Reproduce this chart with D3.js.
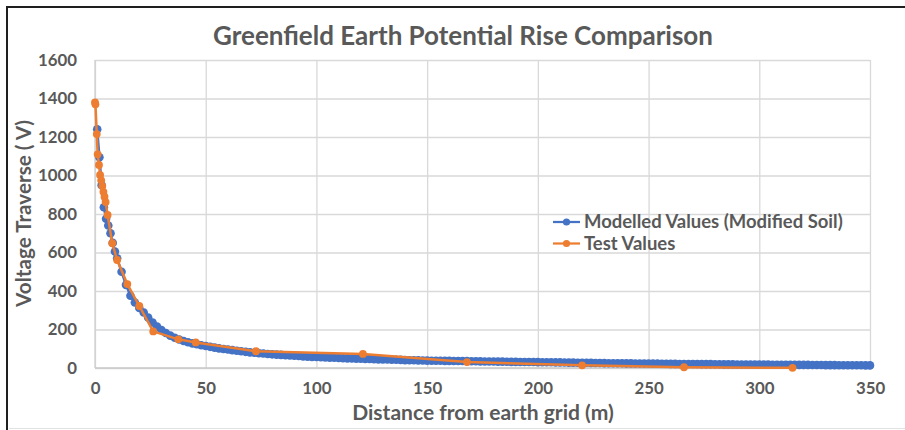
<!DOCTYPE html>
<html>
<head>
<meta charset="utf-8">
<script src="https://cdn.jsdelivr.net/npm/d3@7"></script>
<style>
  html, body { margin: 0; padding: 0; background: #fff; }
  svg { display: block; }
</style>
</head>
<body>
<svg id="chart" width="905" height="430"></svg>
<script>
// Texts
const chartTitle = "Greenfield Earth Potential Rise Comparison";
const xAxisTitle = "Distance from earth grid (m)";
const yAxisTitle = "Voltage Traverse ( V)";
const seriesNames = ["Modelled Values (Modified Soil)", "Test Values"];

// Axis ticks
const xTicks = [0, 50, 100, 150, 200, 250, 300, 350];
const yTicks = [0, 200, 400, 600, 800, 1000, 1200, 1400, 1600];

// Modelled traverse: 1 m steps to 10 m, then 2 m steps to 350 m
const modelDistances = [1, 2, 3, 4, 5, 6, 7, 8, 9, 10].concat(d3.range(12, 351, 2));
const modelVoltages = [
  1240, 1095, 950, 835, 775, 740, 700, 650, 605, 570,
  500, 432, 375, 340, 312, 288, 262, 236, 215, 197,
  182, 168, 157, 148, 140, 134, 128, 123, 118, 114,
  110, 106, 102, 99, 96, 93, 90, 87, 84, 81,
  79, 77, 75, 73, 71, 69.5, 68, 66.5, 65, 63.5,
  62, 60.5, 59, 58, 57,
  56, 55, 54, 53, 52, 51, 50, 49, 48.5, 48,
  47, 46.5, 46, 45, 44.5, 44, 43, 42.5, 42, 41,
  40.5, 40, 39.5, 39, 38.5,
  38, 38, 37.5, 37, 37, 36.5, 36, 36, 35.5, 35,
  35, 34.5, 34, 34, 33.5, 33, 33, 32.5, 32, 32,
  31.5, 31.5, 31, 31, 30.5,
  30, 30, 29.5, 29, 29, 28.5, 28, 28, 27.5, 27,
  27, 26.5, 26, 26, 25.5, 25, 25, 24.5, 24.5, 24,
  24, 23.5, 23.5, 23, 23,
  22.5, 22.5, 22, 22, 21.5, 21.5, 21, 21, 21, 20.5,
  20.5, 20, 20, 20, 19.5, 19.5, 19, 19, 19, 18.5,
  18.5, 18.5, 18, 18, 18,
  17.5, 17.5, 17, 17, 17, 16.5, 16.5, 16.5, 16, 16,
  16, 15.5, 15.5, 15.5, 15, 15, 15, 14.5, 14.5, 14.5,
  14, 14, 14, 13.5, 13.5
];

// Measured traverse
const testDistances = [0, 0.2, 0.8, 1.2, 1.8, 2.3, 2.8, 3.3, 3.8, 4.3, 4.8, 5.7, 7.8, 10, 14.6, 20, 26.3, 37.6, 45.5, 72.7, 121, 168, 220, 266, 315];
const testVoltages  = [1380, 1370, 1215, 1110, 1055, 1003, 975, 945, 915, 890, 862, 795, 648, 561, 436, 322, 190, 149, 133, 87, 73, 31, 14, 4, 1];

const seriesColors = ["#4472C4", "#ED7D31"];
const textColor = "#595959";
const fontFamily = "Lato, 'Open Sans', sans-serif";

const svg = d3.select("#chart");

// Outer frame
svg.append("rect")
  .attr("x", 7).attr("y", 7).attr("width", 930).attr("height", 450)
  .attr("fill", "#fff").attr("stroke", "#1f1f1f").attr("stroke-width", 2);
svg.append("line")
  .attr("x1", 9).attr("x2", 905).attr("y1", 428.5).attr("y2", 428.5)
  .attr("stroke", "#e2e2e2").attr("stroke-width", 1);

const plot = { left: 95, right: 870, top: 60, bottom: 368 };
const x = d3.scaleLinear().domain([0, 350]).range([plot.left, plot.right]);
const y = d3.scaleLinear().domain([0, 1600]).range([plot.bottom, plot.top]);

function fitWidth(sel, w) {
  const fs = parseFloat(sel.attr("font-size"));
  const len = sel.node().getComputedTextLength();
  const size = fs * w / len;
  sel.attr("font-size", size);
  return size;
}

// Tick label size from the widest y label
const probe = svg.append("text").attr("font-family", fontFamily).attr("font-weight", 700)
  .attr("font-size", 18).text("1600");
const tickSize = fitWidth(probe, 39);
probe.remove();

// Axes with gridlines
const xAxis = svg.append("g")
  .attr("transform", `translate(0,${plot.bottom})`)
  .call(d3.axisBottom(x).tickValues(xTicks).tickFormat(d3.format("d"))
    .tickSize(-(plot.bottom - plot.top)).tickPadding(14));
const yAxis = svg.append("g")
  .attr("transform", `translate(${plot.left},0)`)
  .call(d3.axisLeft(y).tickValues(yTicks).tickFormat(d3.format("d"))
    .tickSize(-(plot.right - plot.left)).tickPadding(18));

[xAxis, yAxis].forEach(g => {
  g.select(".domain").remove();
  g.selectAll(".tick line").attr("stroke", "#d9d9d9").attr("stroke-width", 1.3);
  g.selectAll(".tick text")
    .attr("font-family", fontFamily).attr("font-weight", 700)
    .attr("font-size", tickSize).attr("fill", textColor);
});

// Axis baselines
svg.append("line").attr("x1", plot.left).attr("x2", plot.right)
  .attr("y1", plot.bottom).attr("y2", plot.bottom)
  .attr("stroke", "#c8c8c8").attr("stroke-width", 1.5);
svg.append("line").attr("x1", plot.left).attr("x2", plot.left)
  .attr("y1", plot.top).attr("y2", plot.bottom)
  .attr("stroke", "#d0d0d0").attr("stroke-width", 1.3);

// Series
const line = d3.line().x(d => x(d[0])).y(d => y(d[1]));
const series = [
  d3.zip(modelDistances, modelVoltages),
  d3.zip(testDistances, testVoltages)
];
const markerR = [4.3, 3.9];
series.forEach((pts, i) => {
  const g = svg.append("g");
  g.append("path").datum(pts)
    .attr("d", line).attr("fill", "none")
    .attr("stroke", seriesColors[i]).attr("stroke-width", 2.5)
    .attr("stroke-linejoin", "round");
  g.selectAll("circle").data(pts).join("circle")
    .attr("cx", d => x(d[0])).attr("cy", d => y(d[1]))
    .attr("r", markerR[i]).attr("fill", seriesColors[i]);
});

// Legend
const legendRows = [222, 243.5];
let legendSize = null;
seriesNames.forEach((name, i) => {
  const ly = legendRows[i];
  svg.append("line").attr("x1", 553).attr("x2", 580).attr("y1", ly).attr("y2", ly)
    .attr("stroke", seriesColors[i]).attr("stroke-width", 2.25);
  svg.append("circle").attr("cx", 566.5).attr("cy", ly).attr("r", 3.6).attr("fill", seriesColors[i]);
  const t = svg.append("text").attr("x", 584).attr("y", ly)
    .attr("dy", "0.35em")
    .attr("font-family", fontFamily).attr("font-weight", 700)
    .attr("font-size", 18).attr("fill", textColor).text(name);
  if (i === 0) legendSize = fitWidth(t, 259);
  else t.attr("font-size", legendSize);
});

// Titles
const title = svg.append("text").attr("x", 463).attr("y", 45)
  .attr("text-anchor", "middle")
  .attr("font-family", fontFamily).attr("font-weight", 700)
  .attr("font-size", 24).attr("fill", textColor).text(chartTitle);
fitWidth(title, 500);

const xt = svg.append("text").attr("x", 483).attr("y", 420)
  .attr("text-anchor", "middle")
  .attr("font-family", fontFamily).attr("font-weight", 700)
  .attr("font-size", 18).attr("fill", textColor).text(xAxisTitle);
fitWidth(xt, 262);

const yt = svg.append("text")
  .attr("transform", "translate(31,213.5) rotate(-90)")
  .attr("text-anchor", "middle")
  .attr("font-family", fontFamily).attr("font-weight", 700)
  .attr("font-size", 18).attr("fill", textColor).text(yAxisTitle);
fitWidth(yt, 187);
</script>
</body>
</html>
